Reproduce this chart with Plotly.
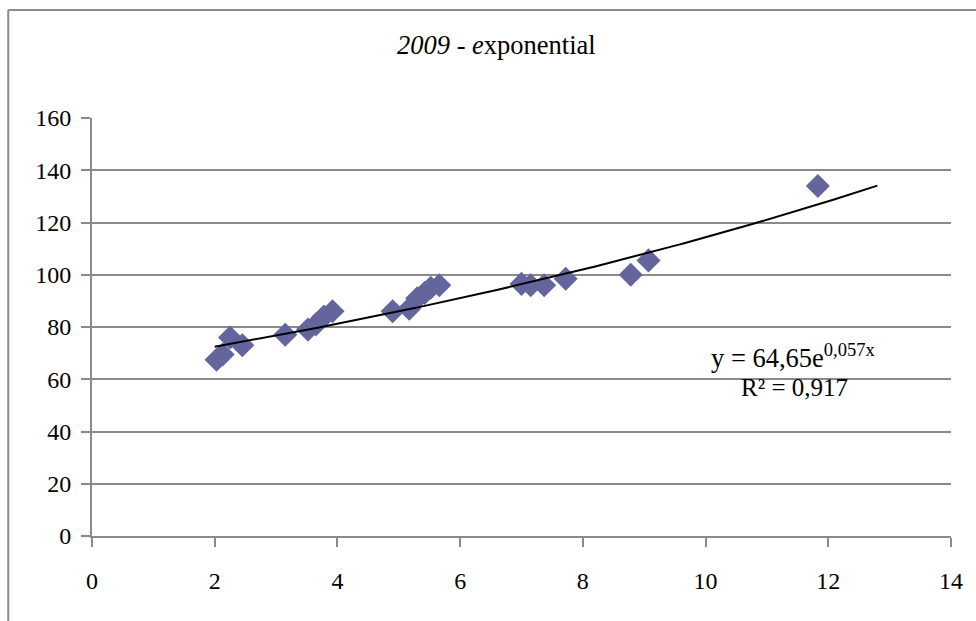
import numpy as np
import plotly.graph_objects as go

# Observations for 2009
x_vals = [2.03, 2.13, 2.25, 2.45, 3.15, 3.52, 3.65, 3.78, 3.92, 4.90, 5.17, 5.30,
          5.42, 5.52, 5.66, 7.00, 7.15, 7.37, 7.72, 8.78, 9.07, 11.83]
y_vals = [67.5, 69.5, 76.0, 73.0, 77.0, 79.0, 81.0, 84.0, 86.0, 86.0, 87.0, 91.0,
          93.0, 95.0, 96.0, 96.5, 96.0, 96.0, 98.5, 100.0, 105.5, 134.0]

# Exponential trend: y = a * e^(b x)
trend_a = 64.65
trend_b = 0.057
trend_r2 = 0.917
trend_x_range = [2.0, 12.8]

x_ticks = [0, 2, 4, 6, 8, 10, 12, 14]
y_ticks = [0, 20, 40, 60, 80, 100, 120, 140, 160]

FONT = "Times New Roman"
GRID = "#8a8a8a"

tx = np.linspace(trend_x_range[0], trend_x_range[1], 200)
ty = trend_a * np.exp(trend_b * tx)

fig = go.Figure()
fig.add_trace(go.Scatter(
    x=x_vals, y=y_vals, mode="markers",
    marker=dict(symbol="diamond", size=18.5, color="#65659e", line=dict(width=0)),
    hoverinfo="skip", showlegend=False,
))
fig.add_trace(go.Scatter(
    x=tx, y=ty, mode="lines",
    line=dict(color="black", width=2),
    hoverinfo="skip", showlegend=False,
))

fig.update_layout(
    width=976, height=621,
    margin=dict(l=92, r=25, t=118, b=85),
    paper_bgcolor="white", plot_bgcolor="white",
    font=dict(family=FONT, size=24, color="black"),
    showlegend=False,
    xaxis=dict(
        range=[0, 14], tickmode="array", tickvals=x_ticks,
        showgrid=False, zeroline=False,
        showline=True, linecolor=GRID, linewidth=2,
        ticks="outside", ticklen=9, tickwidth=2, tickcolor=GRID,
        ticklabelstandoff=13,
        tickfont=dict(family=FONT, size=24, color="black"),
        fixedrange=True,
    ),
    yaxis=dict(
        range=[0, 160], tickmode="array", tickvals=y_ticks,
        showgrid=True, gridcolor=GRID, gridwidth=2,
        zeroline=False,
        showline=True, linecolor=GRID, linewidth=2,
        ticks="outside", ticklen=9, tickwidth=2, tickcolor=GRID,
        ticklabelstandoff=5,
        tickfont=dict(family=FONT, size=24, color="black"),
        fixedrange=True,
    ),
    annotations=[
        dict(
            text="<i>2009</i> - <i>e</i>xponential",
            xref="paper", yref="paper", x=0.471, y=1.175,
            xanchor="center", yanchor="middle", showarrow=False,
            font=dict(family=FONT, size=26.5, color="black"),
        ),
        dict(
            text=f"y = {trend_a:.2f}e<sup>{trend_b:.3f}x</sup>".replace(".", ","),
            xref="x", yref="y", x=10.05, y=69,
            xanchor="left", yanchor="middle", showarrow=False,
            font=dict(family=FONT, size=26.5, color="black"),
        ),
        dict(
            text=f"R² = {trend_r2:.3f}".replace(".", ","),
            xref="x", yref="y", x=10.55, y=57,
            xanchor="left", yanchor="middle", showarrow=False,
            font=dict(family=FONT, size=25, color="black"),
        ),
    ],
    shapes=[
        # chart frame (left and top edges)
        dict(type="line", xref="paper", yref="paper",
             x0=-0.0975, x1=-0.0975, y0=1.2584, y1=-0.25,
             line=dict(color=GRID, width=2)),
        dict(type="line", xref="paper", yref="paper",
             x0=-0.0975, x1=1.05, y0=1.2584, y1=1.2584,
             line=dict(color=GRID, width=2)),
    ],
)

fig.write_html("out.html")
